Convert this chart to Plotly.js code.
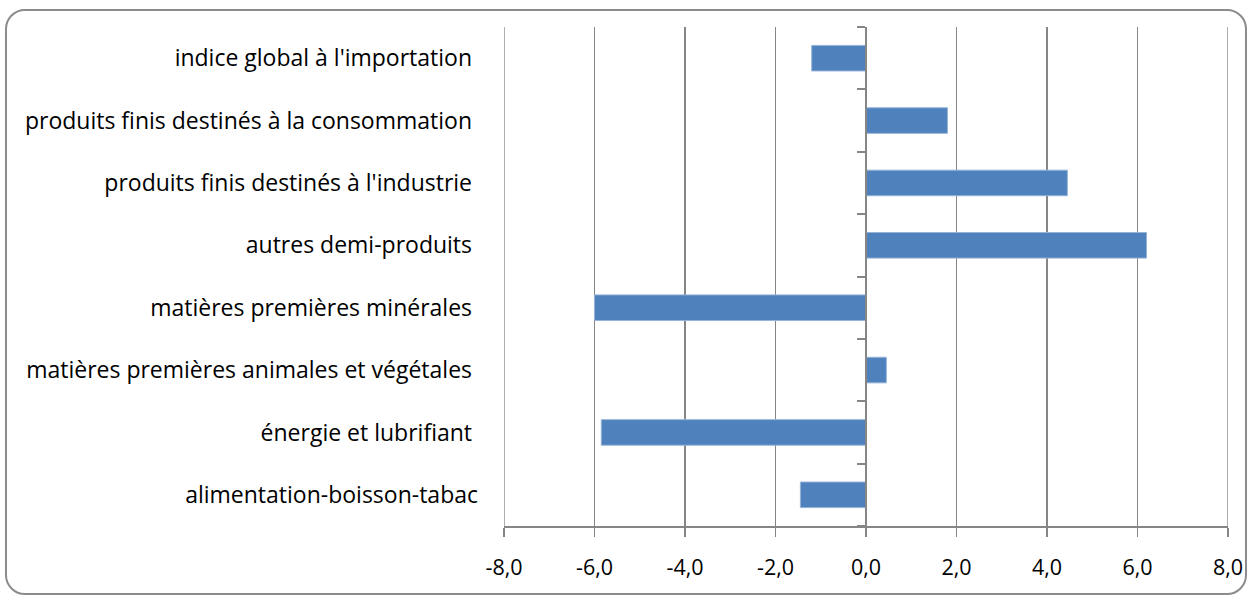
<!DOCTYPE html>
<html>
<head>
<meta charset="utf-8">
<script src="https://cdn.plot.ly/plotly-3.0.1.min.js"></script>
<style>
  html, body { margin: 0; padding: 0; background: #fff; }
  #wrap { position: relative; width: 1250px; height: 596px; }
  #chart { position: absolute; left: 0; top: 0; width: 1250px; height: 596px; }
  #frame { position: absolute; left: 5px; top: 9px; width: 1238px; height: 582px;
           border: 2px solid #8c8c8c; border-radius: 20px; pointer-events: none; }
</style>
</head>
<body>
<div id="wrap">
  <div id="chart"></div>
  <div id="frame"></div>
</div>
<script>
// Categories listed bottom to top (as drawn)
const categories = [
  "alimentation-boisson-tabac",
  "énergie et lubrifiant\u00a0",
  "matières premières animales et végétales\u00a0",
  "matières premières minérales\u00a0",
  "autres demi-produits\u00a0",
  "produits finis destinés à l'industrie\u00a0",
  "produits finis destinés à la consommation\u00a0",
  "indice global à l'importation\u00a0"
];
const values = [-1.45, -5.85, 0.45, -6.0, 6.2, 4.45, 1.8, -1.2];
const xTicks = [-8, -6, -4, -2, 0, 2, 4, 6, 8];
const xTickLabels = ["-8,0", "-6,0", "-4,0", "-2,0", "0,0", "2,0", "4,0", "6,0", "8,0"];

const font = "'Open Sans', sans-serif";
const grey = "#868686";

const data = [
  {
    type: "bar",
    orientation: "h",
    x: values,
    y: categories,
    marker: { color: "#4F81BD", line: { color: "#95B3D7", width: 1 } },
    hoverinfo: "x+y"
  },
  {
    type: "bar",
    orientation: "h",
    x: categories.map(() => 0),
    y: categories,
    yaxis: "y2",
    marker: { color: "rgba(0,0,0,0)" },
    hoverinfo: "skip",
    showlegend: false
  }
];

const layout = {
  width: 1250,
  height: 596,
  margin: { l: 504, r: 22, t: 27, b: 70 },
  paper_bgcolor: "#ffffff",
  plot_bgcolor: "#ffffff",
  showlegend: false,
  bargap: 0.59,
  font: { family: font, color: "#000000", size: 22 },
  xaxis: {
    range: [-8, 8],
    tickmode: "array",
    tickvals: xTicks,
    ticktext: xTickLabels,
    showgrid: true,
    gridcolor: grey,
    gridwidth: 1.3,
    zeroline: false,
    showline: true,
    linecolor: grey,
    linewidth: 1.5,
    ticks: "outside",
    ticklen: 9,
    tickwidth: 1.5,
    tickcolor: grey,
    ticklabelstandoff: 13,
    tickfont: { family: font, size: 21.5, color: "#000000" },
    fixedrange: true
  },
  yaxis: {
    type: "category",
    categoryorder: "array",
    categoryarray: categories,
    range: [-0.5, categories.length - 0.5],
    showgrid: false,
    zeroline: false,
    showline: false,
    ticks: "",
    ticklabelstandoff: 25,
    tickfont: { family: font, size: 23, color: "#000000" },
    fixedrange: true
  },
  yaxis2: {
    type: "category",
    categoryorder: "array",
    categoryarray: categories,
    range: [-0.5, categories.length - 0.5],
    overlaying: "y",
    anchor: "free",
    position: 0.5,
    side: "left",
    showticklabels: false,
    showgrid: false,
    zeroline: false,
    showline: true,
    linecolor: grey,
    linewidth: 2,
    ticks: "outside",
    tickson: "boundaries",
    ticklen: 8,
    tickwidth: 2,
    tickcolor: grey,
    fixedrange: true
  },
  shapes: [-8, 8].map(v => ({
    type: "line", xref: "x", yref: "paper",
    x0: v, x1: v, y0: 0, y1: 1,
    line: { color: grey, width: 1.3 }, layer: "below"
  }))
};

Plotly.newPlot("chart", data, layout, { displayModeBar: false, staticPlot: true });
</script>
</body>
</html>
